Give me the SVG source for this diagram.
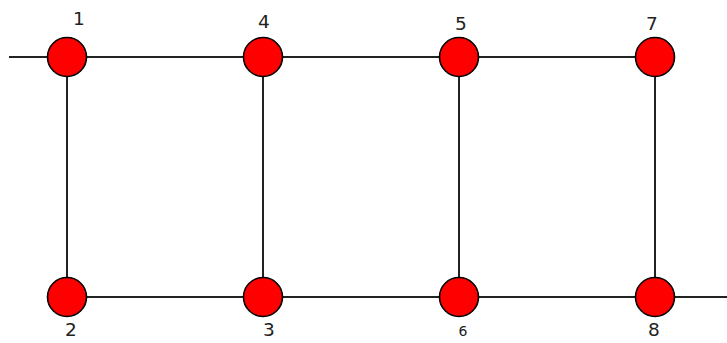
<svg xmlns="http://www.w3.org/2000/svg" width="727" height="343" viewBox="0 0 727 343">
<style>
.n{fill:#ff0000;stroke:#000;stroke-width:1.6}
.e{stroke:#222;stroke-width:2;fill:none}
.t{font-family:"DejaVu Sans",sans-serif;font-size:18.5px;fill:#222;text-anchor:middle}
.s{font-size:14px}
</style>
<rect width="727" height="343" fill="#fff"/>
<g id="connectors">
<line class="e" x1="9" y1="57" x2="655" y2="57"/>
<line class="e" x1="67" y1="297" x2="727" y2="297"/>
<line class="e" x1="67" y1="57" x2="67" y2="297"/>
<line class="e" x1="263" y1="57" x2="263" y2="297"/>
<line class="e" x1="459" y1="57" x2="459" y2="297"/>
<line class="e" x1="655" y1="57" x2="655" y2="297"/>
</g>
<g id="n1"><circle class="n" cx="67" cy="57" r="19.5"/><text class="t" x="79" y="25">1</text></g>
<g id="n4"><circle class="n" cx="263" cy="57" r="19.5"/><text class="t" x="264" y="28">4</text></g>
<g id="n5"><circle class="n" cx="459" cy="57" r="19.5"/><text class="t" x="461" y="30">5</text></g>
<g id="n7"><circle class="n" cx="655" cy="57" r="19.5"/><text class="t" x="652" y="30">7</text></g>
<g id="n2"><circle class="n" cx="67" cy="297" r="19.5"/><text class="t" x="71" y="336">2</text></g>
<g id="n3"><circle class="n" cx="263" cy="297" r="19.5"/><text class="t" x="269" y="336">3</text></g>
<g id="n6"><circle class="n" cx="459" cy="297" r="19.5"/><text class="t s" x="463" y="336">6</text></g>
<g id="n8"><circle class="n" cx="655" cy="297" r="19.5"/><text class="t" x="654" y="336">8</text></g>
</svg>
